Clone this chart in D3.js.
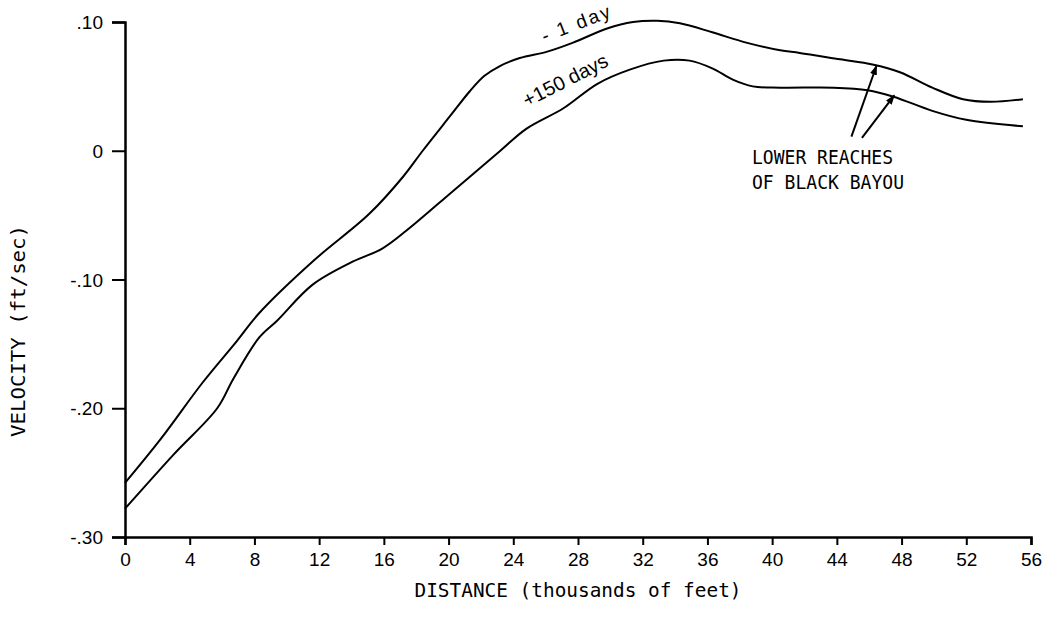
<!DOCTYPE html>
<html><head><meta charset="utf-8">
<script src="https://cdn.jsdelivr.net/npm/d3@7"></script>
<style>body{margin:0;background:#fff}svg{display:block}</style>
</head><body>
<svg id="c" width="1045" height="622"></svg>
<script>
// Distance (thousands of feet) and velocity (ft/sec)
const upperDist = [0, 2.2, 4.8, 6.9, 8.3, 11.6, 15.1, 17.2, 18.4, 20.1, 21.3, 22.2, 23.2, 24.4, 26.1, 27.7, 29.8, 31.4, 32.9, 34.3, 36.3, 38.4, 40.5, 41.7, 44.2, 46.2, 47.9, 49.9, 51.8, 53.5, 55.5];
const upperVel  = [-0.258, -0.224, -0.180, -0.148, -0.126, -0.086, -0.049, -0.020, 0.000, 0.027, 0.046, 0.058, 0.066, 0.072, 0.077, 0.084, 0.095, 0.100, 0.101, 0.099, 0.092, 0.084, 0.078, 0.076, 0.071, 0.067, 0.061, 0.049, 0.040, 0.038, 0.040];
const lowerDist = [0, 3.0, 5.7, 6.7, 8.3, 9.4, 11.6, 14.1, 15.9, 17.4, 20.3, 23.2, 24.8, 27.1, 29.2, 31.2, 33.3, 34.9, 36.3, 37.6, 38.8, 40.5, 43.8, 45.9, 47.5, 49.9, 52.0, 55.5];
const lowerVel  = [-0.278, -0.236, -0.200, -0.177, -0.145, -0.132, -0.104, -0.086, -0.076, -0.062, -0.031, 0.000, 0.017, 0.033, 0.052, 0.063, 0.070, 0.070, 0.064, 0.055, 0.050, 0.049, 0.049, 0.047, 0.042, 0.031, 0.024, 0.019];
const xTicks = [0, 4, 8, 12, 16, 20, 24, 28, 32, 36, 40, 44, 48, 52, 56];
const yTicks = [-0.3, -0.2, -0.1, 0, 0.1];
const yTickLabels = ["-.30", "-.20", "-.10", "0", ".10"];
const curveLabels = ["- 1 day", "+150 days"];
const noteLines = ["LOWER REACHES", "OF BLACK BAYOU"];
// annotation arrows: [fromDist, fromVel, toDist, toVel]
const arrows = [[44.9, 0.011, 46.45, 0.066], [45.55, 0.010, 47.55, 0.043]];

const svg = d3.select("#c");
const x = d3.scaleLinear().domain([0, 56]).range([125, 1031]);
const y = d3.scaleLinear().domain([-0.3, 0.1]).range([537, 22]);

const tickFont = "'Liberation Sans', Arial, sans-serif";
const monoFont = "'DejaVu Sans Mono', monospace";

// axes
const xa = svg.append("g").attr("transform", "translate(0,537)")
  .call(d3.axisBottom(x).tickValues(xTicks).tickSize(8).tickPadding(8).tickFormat(d3.format("d")));
const ya = svg.append("g").attr("transform", "translate(125,0)")
  .call(d3.axisLeft(y).tickValues(yTicks).tickSize(13).tickPadding(9).tickFormat((d, i) => yTickLabels[i]));
[xa, ya].forEach(g => {
  g.select(".domain").attr("stroke", "#000").attr("stroke-width", 2.5);
  g.selectAll(".tick line").attr("stroke", "#000").attr("stroke-width", 2);
  g.selectAll(".tick text").attr("fill", "#000").style("font-family", tickFont).style("font-size", "19px");
});
ya.selectAll(".tick text").attr("dy", "0.35em");

// curves
const line = d3.line().x(d => x(d[0])).y(d => y(d[1])).curve(d3.curveCatmullRom.alpha(0.5));
const series = [d3.zip(upperDist, upperVel), d3.zip(lowerDist, lowerVel)];
svg.selectAll("path.curve").data(series).join("path").attr("class", "curve")
  .attr("d", line).attr("fill", "none").attr("stroke", "#000").attr("stroke-width", 2);

// curve labels
svg.append("text").text(curveLabels[0])
  .attr("transform", `translate(${x(28.0)},${y(0.094)}) rotate(-21)`)
  .attr("text-anchor", "middle").attr("textLength", 72).attr("lengthAdjust", "spacing")
  .style("font-family", tickFont).style("font-size", "19px");
svg.append("text").text(curveLabels[1])
  .attr("transform", `translate(${x(27.4)},${y(0.050)}) rotate(-27)`)
  .attr("text-anchor", "middle").style("font-family", tickFont).style("font-size", "20px");

// arrows
svg.append("defs").append("marker").attr("id", "ah").attr("viewBox", "0 0 10 10")
  .attr("refX", 9).attr("refY", 5).attr("markerWidth", 10).attr("markerHeight", 10)
  .attr("markerUnits", "userSpaceOnUse").attr("orient", "auto")
  .append("path").attr("d", "M0,1.5L10,5L0,8.5Z").attr("fill", "#000");
svg.selectAll("line.arrow").data(arrows).join("line").attr("class", "arrow")
  .attr("x1", d => x(d[0])).attr("y1", d => y(d[1]))
  .attr("x2", d => x(d[2])).attr("y2", d => y(d[3]))
  .attr("stroke", "#000").attr("stroke-width", 2).attr("marker-end", "url(#ah)");

// note text
svg.selectAll("text.note").data(noteLines).join("text").attr("class", "note")
  .attr("x", 752).attr("y", (d, i) => 164 + i * 25).text(d => d)
  .attr("textLength", (d, i) => i === 0 ? 141 : 152).attr("lengthAdjust", "spacingAndGlyphs")
  .style("font-family", monoFont).style("font-size", "19px");

// axis titles
svg.append("text").text("DISTANCE (thousands of feet)")
  .attr("x", 578).attr("y", 597).attr("text-anchor", "middle")
  .attr("textLength", 327).attr("lengthAdjust", "spacingAndGlyphs")
  .style("font-family", monoFont).style("font-size", "19px");
svg.append("text").text("VELOCITY (ft/sec)")
  .attr("transform", "translate(25,331) rotate(-90)").attr("text-anchor", "middle")
  .attr("textLength", 212).attr("lengthAdjust", "spacingAndGlyphs")
  .style("font-family", monoFont).style("font-size", "19px");
</script>
</body></html>
